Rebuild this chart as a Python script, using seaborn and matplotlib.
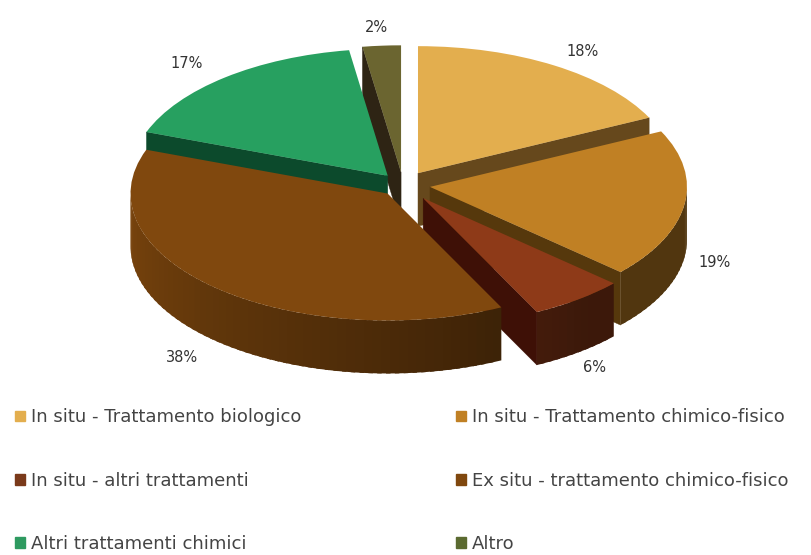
import numpy as np
import seaborn as sns
import matplotlib.pyplot as plt
from matplotlib.patches import Patch

categories = ["In situ - Trattamento biologico", "In situ - Trattamento chimico-fisico",
              "In situ - altri trattamenti", "Ex situ - trattamento chimico-fisico",
              "Altri trattamenti chimici", "Altro"]
shares = [17.8, 18.9, 6.0, 37.9, 17.0, 2.4]
percent_labels = ["18%", "19%", "6%", "38%", "17%", "2%"]

top_colors = ["#E3AE4E", "#C08024", "#8E3A18", "#80480E", "#27A060", "#6B6530"]
face_colors = ["#66481C", "#56380C", "#3E1006", "#4A2A08", "#0C4A2C", "#2E2414"]
legend_colors = ["#E3AE4E", "#C08024", "#7A3A1A", "#80480E", "#2E9A60", "#5B6A30"]

explode = [0.11, 0.106, 0.13, 0.09, 0.094, 0.10]
draw_order = [5, 0, 4, 1, 2, 3]   # back to front

# pie geometry in pixels
cx, cy, rx, ry, depth_px = 403, 185, 257, 127, 53
W, H = 811, 555
depth = depth_px / ry

sns.set_theme(style="white")
plt.rcParams['font.family'] = ['DejaVu Sans']
fig, ax = plt.subplots(figsize=(W / 100, H / 100), dpi=100)
fig.subplots_adjust(0, 0, 1, 1)

wedges, _ = ax.pie(shares, colors=sns.color_palette(top_colors), explode=explode, startangle=90,
                   counterclock=False, radius=1, wedgeprops={"linewidth": 0})
ax.set_aspect("auto")
ax.set_xlim(-cx / rx, (W - cx) / rx)
ax.set_ylim((cy - H) / ry, cy / ry)
ax.axis("off")

edges = np.concatenate([[0], np.cumsum(shares)]) / np.sum(shares) * 360


def pt(theta):
    return np.sin(np.radians(theta)), np.cos(np.radians(theta))


def side_color(i, theta):
    f = 0.42 + 0.53 * max(0, theta - 140) / 130
    return tuple(c * f for c in sns.color_palette([top_colors[i]])[0])


for k, i in enumerate(draw_order):
    t0, t1 = edges[i], edges[i + 1]
    mid = (t0 + t1) / 2
    ox, oy = explode[i] * pt(mid)[0], explode[i] * pt(mid)[1]
    z = 2 * k + 1
    wedges[i].set_zorder(z + 1)

    # flat radial faces: only the ones turned towards the viewer
    for t, sign in ((t0, -1), (t1, 1)):
        if np.cos(np.radians(t + sign * 90)) < 0:
            x, y = pt(t)
            ax.fill([ox, ox + x, ox + x, ox], [oy, oy + y, oy + y - depth, oy - depth],
                    color=face_colors[i], lw=0.3, zorder=z)

    # curved outer side, in thin strips for the shading
    a, b = max(t0, 90), min(t1, 270)
    if a < b:
        steps = np.linspace(a, b, int((b - a) / 2) + 2)
        # paint left to right in overlap so no seams show between the strips
        for s0, s1 in zip(steps[:-1], steps[1:]):
            x0, y0 = pt(s0)
            x1, y1 = pt(min(s1 + 1, b))
            ax.fill([ox + x0, ox + x1, ox + x1, ox + x0],
                    [oy + y0, oy + y1, oy + y1 - depth, oy + y0 - depth],
                    color=side_color(i, (s0 + s1) / 2), lw=0, zorder=z)

# percent labels
label_px = [(583, 52), (715, 262), (595, 367), (182, 357), (187, 63), (376, 27)]
for txt, (px, py) in zip(percent_labels, label_px):
    fig.text(px / W, 1 - py / H, txt, fontsize=10.5, color="#333333", ha="center", va="center")

handles = [Patch(color=c, label=l) for c, l in zip(legend_colors, categories)]
order = [0, 2, 4, 1, 3, 5]
ax.legend([handles[i] for i in order], [categories[i] for i in order], ncols=2, frameon=False,
          loc="upper left", bbox_to_anchor=(10 / W, 1 - 403 / H), bbox_transform=fig.transFigure,
          fontsize=13, labelcolor="#444444", handlelength=0.55, handleheight=0.55, handletextpad=0.3,
          labelspacing=2.5, columnspacing=8.6, borderpad=0.3, borderaxespad=0)

plt.savefig("out.png", dpi=100)
